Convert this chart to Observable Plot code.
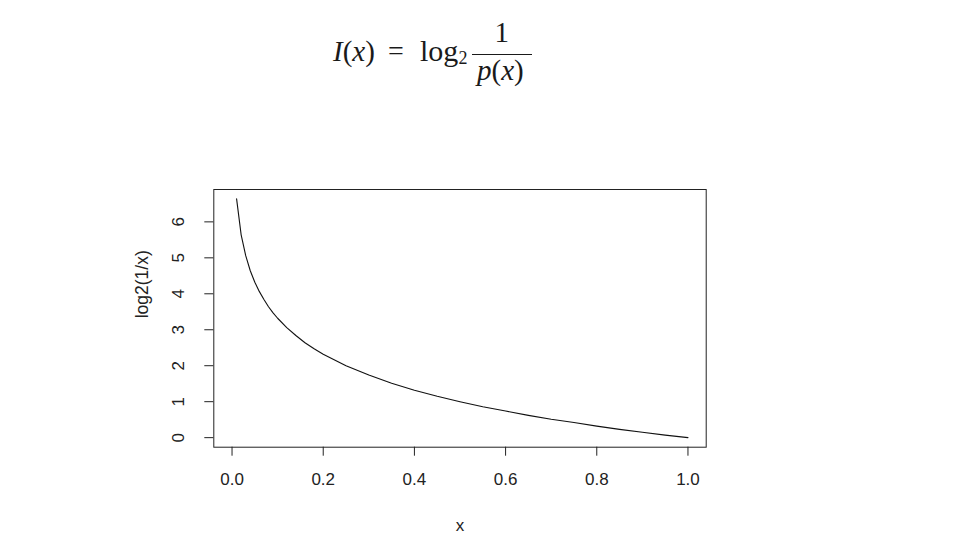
<!DOCTYPE html>
<html>
<head>
<meta charset="utf-8">
<script src="https://cdn.jsdelivr.net/npm/d3@7"></script>
<script src="https://cdn.jsdelivr.net/npm/@observablehq/plot@0.6"></script>
<style>
  html, body { margin: 0; padding: 0; background: #fff; }
  #wrap { width: 967px; }
  #title { position: relative; width: 967px; height: 120px; font-family: "Liberation Serif", "DejaVu Serif", serif; color: #1a1a1a; }
  #title span { position: absolute; line-height: 1; white-space: nowrap; font-size: 28px; }
  #title .bar { position: absolute; height: 1.5px; background: #1a1a1a; }
  #chart svg { display: block; }
</style>
</head>
<body>
<div id="wrap">
  <div id="title">
    <span style="left:333px; top:37px; font-size:29px;"><i>I</i>(<i>x</i>)</span>
    <span style="left:388px; top:37px;">=</span>
    <span style="left:420px; top:36px; font-size:30px;">log</span>
    <span style="left:458.5px; top:49px; font-size:18px;">2</span>
    <span style="left:494.5px; top:17.5px; font-size:29px;">1</span>
    <div class="bar" style="left:472px; top:53.5px; width:60px;"></div>
    <span style="left:477px; top:56px; font-size:29px;"><i>p</i>(<i>x</i>)</span>
  </div>
  <div id="chart"></div>
</div>
<script>
// Curve values
const xValues = [0.01,0.02,0.03,0.04,0.05,0.06,0.07,0.08,0.09,0.10,0.12,0.14,0.16,0.18,0.20,0.25,0.30,0.35,0.40,0.45,0.50,0.55,0.60,0.65,0.70,0.75,0.80,0.85,0.90,0.95,1.00];
const yValues = [6.64,5.64,5.06,4.64,4.32,4.06,3.84,3.64,3.47,3.32,3.06,2.84,2.64,2.47,2.32,2.00,1.74,1.51,1.32,1.15,1.00,0.86,0.74,0.62,0.51,0.42,0.32,0.23,0.15,0.07,0.00];

const xTicks = [0, 0.2, 0.4, 0.6, 0.8, 1.0];
const xTickLabels = ["0.0", "0.2", "0.4", "0.6", "0.8", "1.0"];
const yTicks = [0, 1, 2, 3, 4, 5, 6];
const yTickLabels = ["0", "1", "2", "3", "4", "5", "6"];
const xTitle = "x";
const yTitle = "log2(1/x)";

const data = xValues.map((x, i) => ({x, y: yValues[i]}));
const ink = "#222";

const chart = Plot.plot({
  width: 967,
  height: 435,
  marginTop: 69,
  marginBottom: 108.3,
  marginLeft: 213.3,
  marginRight: 261.3,
  x: {domain: [-0.04, 1.04], axis: null},
  y: {domain: [-0.2657, 6.9], axis: null},
  style: {fontFamily: "'Liberation Sans', Arial, sans-serif", fontSize: "17px", color: ink, background: "#fff", overflow: "visible"},
  marks: [
    Plot.frame({stroke: ink, strokeWidth: 1}),
    Plot.axisX(xTicks, {anchor: "bottom", tickSize: 9, tickPadding: 17, stroke: ink, fill: ink, fontSize: 17, label: null,
      tickFormat: d => xTickLabels[xTicks.indexOf(d)]}),
    Plot.axisY(yTicks, {anchor: "left", tickSize: 9, stroke: ink, label: null, tickFormat: () => ""}),
    Plot.text(yTicks, {y: d => d, text: (d, i) => yTickLabels[i], frameAnchor: "left", dx: -35.5, rotate: -90,
      textAnchor: "middle", lineAnchor: "middle", fill: ink, fontSize: 17}),
    Plot.text([xTitle], {text: d => d, frameAnchor: "bottom", dy: 78, lineAnchor: "middle", fill: ink, fontSize: 17}),
    Plot.text([yTitle], {text: d => d, frameAnchor: "left", dx: -71.8, rotate: -90, lineAnchor: "middle", fill: ink, fontSize: 17.5}),
    Plot.line(data, {x: "x", y: "y", stroke: "#111", strokeWidth: 1.1})
  ]
});
document.getElementById("chart").appendChild(chart);
</script>
</body>
</html>
